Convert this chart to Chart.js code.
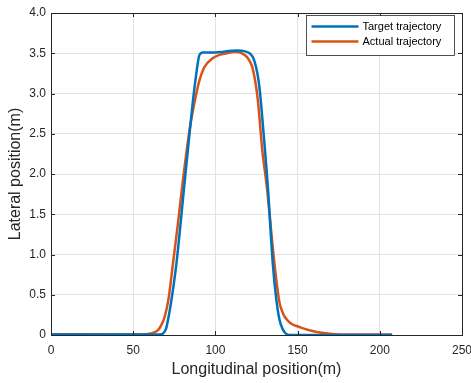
<!DOCTYPE html>
<html>
<head>
<meta charset="utf-8">
<script src="https://cdn.jsdelivr.net/npm/chart.js@4.4.0/dist/chart.umd.min.js"></script>
<style>
  html, body { margin: 0; padding: 0; background: #fff; }
  #wrap { width: 471px; height: 383px; }
</style>
</head>
<body>
<div id="wrap"><canvas id="traj"></canvas></div>
<script>
/* datos */
const TARGET_X = [0, 50, 64, 67, 68.2, 70, 71.2, 73, 76.3, 81, 84, 86.4, 88.4, 90, 91.2, 92.4, 95, 100, 105, 110, 113, 116, 118.5, 120.8, 122.5, 123.8, 125.8, 127.2, 128.5, 131.9, 134.9, 137, 139, 141, 142.5, 144, 147, 160, 207.5];
const TARGET_Y = [0.005, 0.005, 0.005, 0.01, 0.02, 0.08, 0.19, 0.4, 0.89, 1.84, 2.45, 2.92, 3.25, 3.46, 3.5, 3.51, 3.51, 3.51, 3.52, 3.53, 3.535, 3.53, 3.52, 3.5, 3.46, 3.4, 3.22, 3.0, 2.7, 1.84, 0.89, 0.45, 0.19, 0.07, 0.025, 0.005, 0, 0, 0];

const ACTUAL_X = [0, 40, 55, 60, 63, 65.1, 67, 69.2, 71.5, 74.2, 77, 80.3, 84.3, 88.4, 90.4, 93.4, 98.5, 102.5, 107, 110.6, 113, 116, 119.7, 122.4, 124.4, 125.8, 126.8, 128.5, 131.3, 132.9, 135.9, 139, 140.5, 142, 144, 147, 151, 156, 161, 166, 171, 180, 207.5];
const ACTUAL_Y = [0.01, 0.005, 0.005, 0.015, 0.035, 0.06, 0.12, 0.23, 0.45, 0.89, 1.35, 1.93, 2.55, 3.0, 3.17, 3.33, 3.44, 3.48, 3.5, 3.515, 3.515, 3.5, 3.44, 3.33, 3.13, 2.92, 2.7, 2.3, 1.84, 1.51, 0.89, 0.4, 0.3, 0.23, 0.18, 0.13, 0.10, 0.065, 0.04, 0.025, 0.012, 0.005, 0.005];

const X_TICKS = [0, 50, 100, 150, 200, 250];
const Y_TICKS = [0, 0.5, 1, 1.5, 2, 2.5, 3, 3.5, 4];

const LABELS = ["Target trajectory", "Actual trajectory"];
const AXIS_COLOR = "#262626";
const FONT = "'Liberation Sans', Arial, Helvetica, sans-serif";

function toPoints(xs, ys) {
    return xs.map((x, i) => ({ x: x, y: ys[i] }));
}

/* caja de ejes + ticks hacia dentro (estilo matlab) */
const boxPlugin = {
    id: "box",
    afterDraw(chart) {
        const ctx = chart.ctx;
        const a = chart.chartArea;
        const sx = chart.scales.x;
        const sy = chart.scales.y;
        ctx.save();
        ctx.strokeStyle = AXIS_COLOR;
        ctx.lineWidth = 1;
        ctx.beginPath();
        for (const v of X_TICKS) {
            const p = Math.round(sx.getPixelForValue(v)) + 0.5;
            ctx.moveTo(p, a.bottom); ctx.lineTo(p, a.bottom - 4);
            ctx.moveTo(p, a.top); ctx.lineTo(p, a.top + 4);
        }
        for (const v of Y_TICKS) {
            const p = Math.round(sy.getPixelForValue(v)) + 0.5;
            ctx.moveTo(a.left, p); ctx.lineTo(a.left + 4, p);
            ctx.moveTo(a.right, p); ctx.lineTo(a.right - 4, p);
        }
        ctx.stroke();
        ctx.strokeRect(Math.round(a.left) + 0.5, Math.round(a.top) + 0.5,
                       Math.round(a.right - a.left), Math.round(a.bottom - a.top));

        // leyenda
        const lx = 306.5, ly = 15.5, lw = 148, lh = 40;
        ctx.fillStyle = "#fff";
        ctx.fillRect(lx, ly, lw, lh);
        ctx.strokeStyle = "#262626";
        ctx.lineWidth = 0.8;
        ctx.strokeRect(lx, ly, lw, lh);
        ctx.font = "11px " + FONT;
        ctx.textBaseline = "middle";
        chart.data.datasets.forEach((ds, i) => {
            const yy = ly + 11 + i * 15;
            ctx.strokeStyle = ds.borderColor;
            ctx.lineWidth = 2.5;
            ctx.beginPath();
            ctx.moveTo(lx + 5, yy); ctx.lineTo(lx + 52, yy);
            ctx.stroke();
            ctx.fillStyle = "#000";
            ctx.fillText(ds.label, lx + 56, yy);
        });
        ctx.restore();
    }
};

new Chart(document.getElementById("traj"), {
    type: "line",
    data: {
        datasets: [
            {
                label: LABELS[0],
                data: toPoints(TARGET_X, TARGET_Y),
                borderColor: "#0072BD",
                borderWidth: 2.5,
                pointRadius: 0,
                cubicInterpolationMode: "monotone"
            },
            {
                label: LABELS[1],
                data: toPoints(ACTUAL_X, ACTUAL_Y),
                borderColor: "#D95319",
                borderWidth: 2.5,
                pointRadius: 0,
                cubicInterpolationMode: "monotone"
            }
        ]
    },
    options: {
        responsive: true,
        maintainAspectRatio: false,
        animation: false,
        layout: { padding: { top: 13, right: 9, left: 0, bottom: 0 } },
        plugins: {
            legend: { display: false },
            tooltip: { enabled: false }
        },
        scales: {
            x: {
                type: "linear",
                min: 0,
                max: 250,
                afterBuildTicks: s => { s.ticks = X_TICKS.map(v => ({ value: v })); },
                afterFit: s => { s.height = 48; s.paddingLeft = 0; s.paddingRight = 0; },
                ticks: { color: AXIS_COLOR, font: { family: FONT, size: 12 }, padding: 8, maxRotation: 0 },
                grid: { color: "#e3e3e3", drawTicks: false },
                border: { color: AXIS_COLOR },
                title: { display: true, text: "Longitudinal position(m)", color: AXIS_COLOR, font: { family: FONT, size: 16 }, padding: { top: 2, bottom: 4 } }
            },
            y: {
                min: 0,
                max: 4,
                afterBuildTicks: s => { s.ticks = Y_TICKS.map(v => ({ value: v })); },
                afterFit: s => { s.width = 51; s.paddingTop = 0; s.paddingBottom = 0; },
                ticks: {
                    color: AXIS_COLOR,
                    font: { family: FONT, size: 12 },
                    padding: 5,
                    callback: v => v === 0 ? "0" : v.toFixed(1)
                },
                grid: { color: "#e3e3e3", drawTicks: false },
                border: { color: AXIS_COLOR },
                title: { display: true, text: "Lateral position(m)", color: AXIS_COLOR, font: { family: FONT, size: 16 }, padding: { top: 6, bottom: 0 } }
            }
        }
    },
    plugins: [boxPlugin]
});
</script>
</body>
</html>
